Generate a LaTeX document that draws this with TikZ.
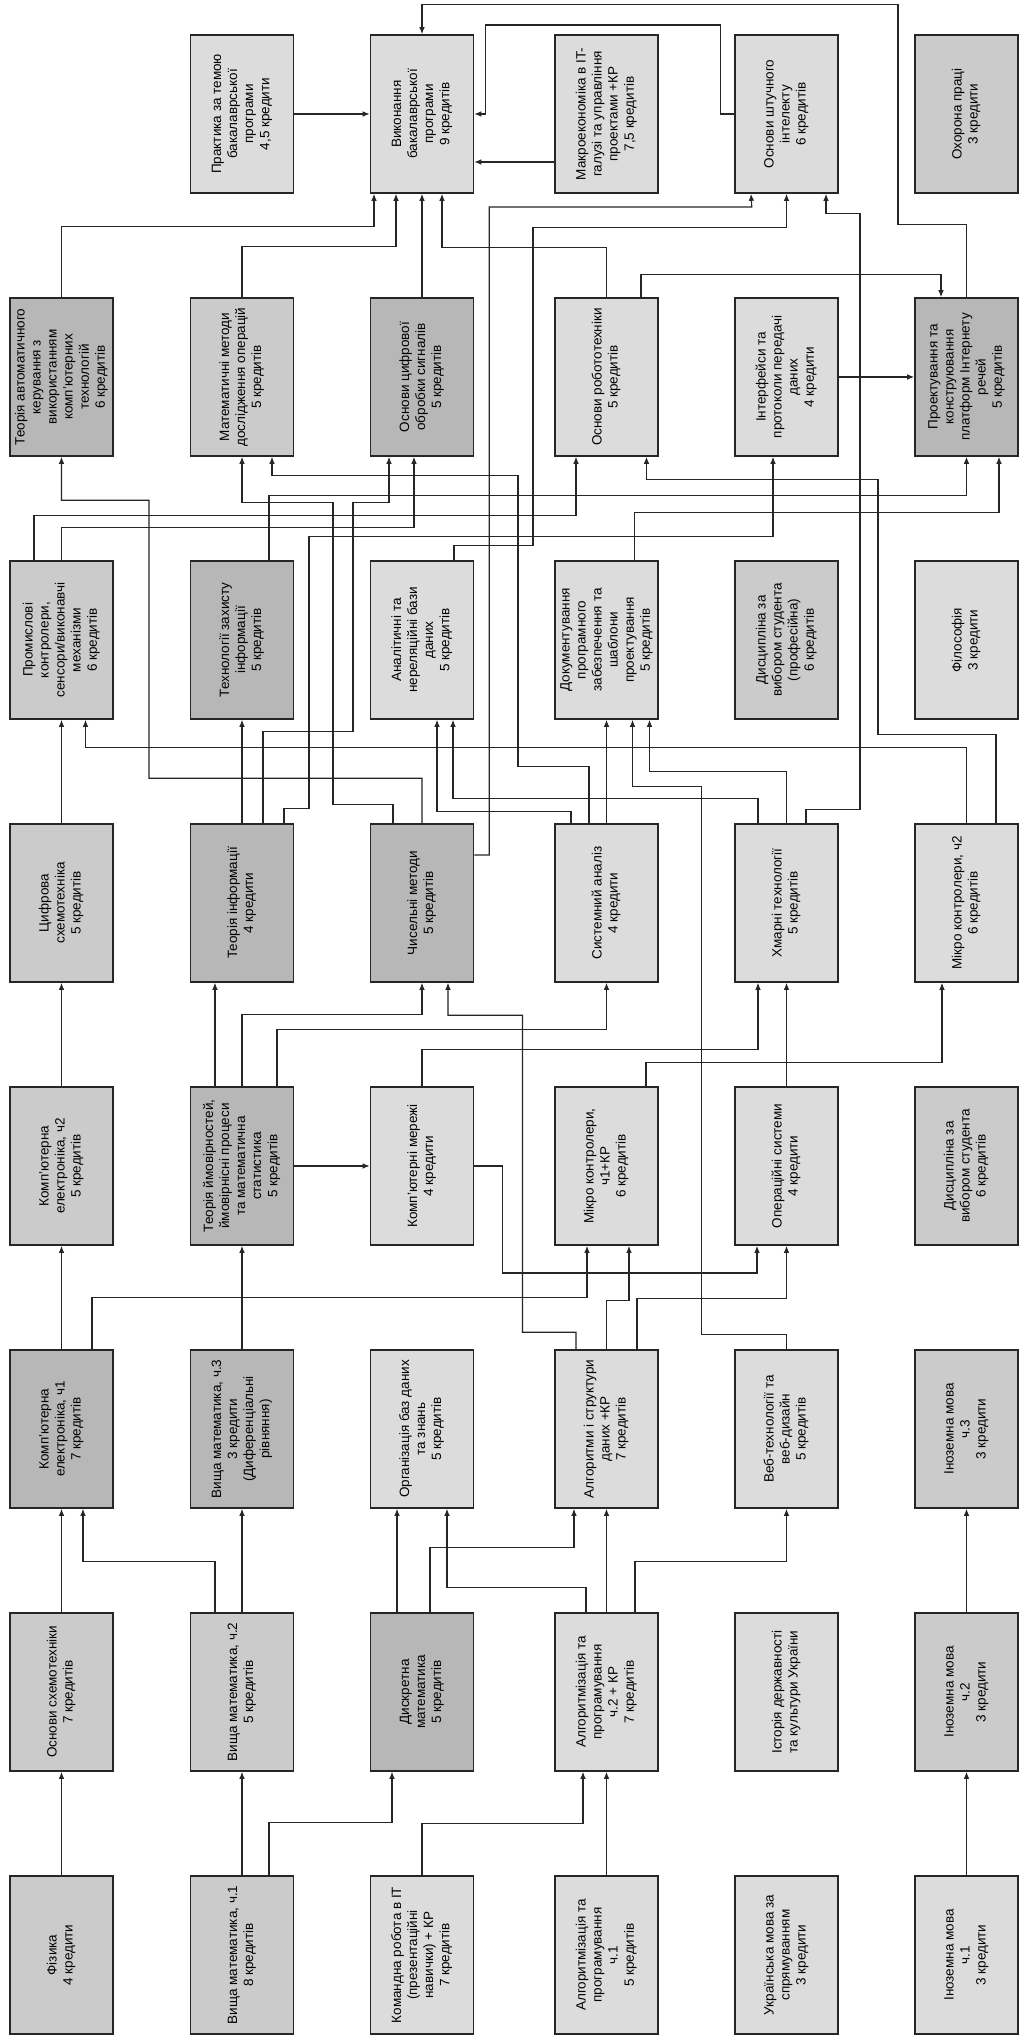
\documentclass[tikz,border=0pt]{standalone}
\usepackage{fontspec}
\setmainfont{Liberation Sans}
\usepackage{graphicx}
\usetikzlibrary{arrows.meta,calc}
\definecolor{boxlight}{RGB}{220,220,220}
\definecolor{boxmid}{RGB}{203,203,203}
\definecolor{boxdark}{RGB}{183,183,183}
\newcommand{\turntext}[1]{\rotatebox{90}{\begin{tabular}{@{}c@{}}#1\end{tabular}}}
\tikzset{
    course/.style={
        draw=black!85,
        line width=1.1pt,
        fill=boxlight,
        minimum width=2.575cm,
        minimum height=3.95cm,
        inner sep=0pt,
        font=\fontsize{9.6}{11.4}\selectfont
    },
    coursemid/.style={course, fill=boxmid},
    coursedark/.style={course, fill=boxdark},
    link/.style={draw=black!85, line width=0.8pt, -{Latex[length=5pt,width=4pt]}}
}

\begin{document}
\begin{tikzpicture}[x=0.025cm, y=0.025cm]
  \path[fill=white] (0,0) rectangle (1030,2040);
  \useasboundingbox (0,0) rectangle (1030,2040);

  % semester 1
  \node[coursemid] (fiz) at (61.5,85) {\turntext{Фізика\\4 кредити}};
  \node[coursemid] (vm1) at (242,85) {\turntext{Вища математика, ч.1\\8 кредитів}};
  \node[course] (kr) at (422,85) {\turntext{Командна робота в IT\\(презентаційні\\навички) + КР\\7 кредитів}};
  \node[course] (alg1) at (606.5,85) {\turntext{Алгоритмізація та\\програмування\\ч.1\\5 кредитів}};
  \node[course] (ukr) at (786.5,85) {\turntext{Українська мова за\\спрямуванням\\3 кредити}};
  \node[course] (in1) at (966.5,85) {\turntext{Іноземна мова\\ч.1\\3 кредити}};

  % semester 2
  \node[coursemid] (osx) at (61.5,348) {\turntext{Основи схемотехніки\\7 кредитів}};
  \node[coursemid] (vm2) at (242,348) {\turntext{Вища математика, ч.2\\5 кредитів}};
  \node[coursedark] (dm) at (422,348) {\turntext{Дискретна\\математика\\5 кредитів}};
  \node[course] (alg2) at (606.5,348) {\turntext{Алгоритмізація та\\програмування\\ч.2 + КР\\7 кредитів}};
  \node[course] (ist) at (786.5,348) {\turntext{Історія державності\\та культури України\\ }};
  \node[coursemid] (in2) at (966.5,348) {\turntext{Іноземна мова\\ч.2\\3 кредити}};

  % semester 3
  \node[coursedark] (kel1) at (61.5,611) {\turntext{Комп'ютерна\\електроніка, ч1\\7 кредитів}};
  \node[coursedark] (vm3) at (242,611) {\turntext{Вища математика, ч.3\\3 кредити\\(Диференціальні\\рівняння)}};
  \node[course] (obd) at (422,611) {\turntext{Організація баз даних\\та знань\\5 кредитів}};
  \node[course] (asd) at (606.5,611) {\turntext{Алгоритми і структури\\даних +КР\\7 кредитів}};
  \node[course] (web) at (786.5,611) {\turntext{Веб-технології та\\веб-дизайн\\5 кредитів}};
  \node[coursemid] (in3) at (966.5,611) {\turntext{Іноземна мова\\ч.3\\3 кредити}};

  % semester 4
  \node[coursemid] (kel2) at (61.5,874) {\turntext{Комп'ютерна\\електроніка, ч2\\5 кредитів}};
  \node[coursedark] (tv) at (242,874) {\turntext{Теорія ймовірностей,\\ймовірнісні процеси\\та математична\\статистика\\5 кредитів}};
  \node[course] (km) at (422,874) {\turntext{Комп'ютерні мережі\\4 кредити}};
  \node[course] (mc1) at (606.5,874) {\turntext{Мікро контролери,\\ч1+КР\\6 кредитів}};
  \node[course] (os) at (786.5,874) {\turntext{Операційні системи\\4 кредити}};
  \node[coursemid] (dv1) at (966.5,874) {\turntext{Дисципліна за\\вибором студента\\6 кредитів}};

  % semester 5
  \node[coursemid] (csx) at (61.5,1137) {\turntext{Цифрова\\схемотехніка\\5 кредитів}};
  \node[coursedark] (ti) at (242,1137) {\turntext{Теорія інформації\\4 кредити}};
  \node[coursedark] (cm) at (422,1137) {\turntext{Чисельні методи\\5 кредитів}};
  \node[course] (sa) at (606.5,1137) {\turntext{Системний аналіз\\4 кредити}};
  \node[course] (ht) at (786.5,1137) {\turntext{Хмарні технології\\5 кредитів}};
  \node[course] (mc2) at (966.5,1137) {\turntext{Мікро контролери, ч2\\6 кредитів}};

  % semester 6
  \node[coursemid] (pk) at (61.5,1400) {\turntext{Промислові\\контролери,\\сенсори/виконавчі\\механізми\\6 кредитів}};
  \node[coursedark] (tzi) at (242,1400) {\turntext{Технології захисту\\інформації\\5 кредитів}};
  \node[course] (abd) at (422,1400) {\turntext{Аналітичні та\\нереляційні бази\\даних\\5 кредитів}};
  \node[course] (doc) at (606.5,1400) {\turntext{Документування\\програмного\\забезпечення та\\шаблони\\проектування\\5 кредитів}};
  \node[coursemid] (dv2) at (786.5,1400) {\turntext{Дисципліна за\\вибором студента\\(професійна)\\6 кредитів}};
  \node[course] (fil) at (966.5,1400) {\turntext{Філософія\\3 кредити}};

  % semester 7
  \node[coursedark] (tak) at (61.5,1663) {\turntext{Теорія автоматичного\\керування з\\використанням\\комп'ютерних\\технологій\\6 кредитів}};
  \node[coursemid] (mmd) at (242,1663) {\turntext{Математичні методи\\дослідження операцій\\5 кредитів}};
  \node[coursedark] (cos) at (422,1663) {\turntext{Основи цифрової\\обробки сигналів\\5 кредитів}};
  \node[course] (rob) at (606.5,1663) {\turntext{Основи робототехніки\\5 кредитів}};
  \node[course] (ipd) at (786.5,1663) {\turntext{Інтерфейси та\\протоколи передачі\\даних\\4 кредити}};
  \node[coursedark] (iot) at (966.5,1663) {\turntext{Проектування та\\конструювання\\платформ Інтернету\\речей\\5 кредитів}};

  % semester 8
  \node[course] (prak) at (242,1926) {\turntext{Практика за темою\\бакалаврської\\програми\\4,5 кредити}};
  \node[course] (bak) at (422,1926) {\turntext{Виконання\\бакалаврської\\програми\\9 кредитів}};
  \node[course] (mak) at (606.5,1926) {\turntext{Макроекономіка в IT-\\галузі та управління\\проектами +КР\\7,5 кредитів}};
  \node[course] (shi) at (786.5,1926) {\turntext{Основи штучного\\інтелекту\\6 кредитів}};
  \node[coursemid] (op) at (966.5,1926) {\turntext{Охорона праці\\3 кредити}};

  % links 1 -> 2
  \draw[link] (fiz.north) -- (osx.south);
  \draw[link] (vm1.north) -- (vm2.south);
  \draw[link] ($(vm1.north)+(27,0)$) -- ++(0,53) -| ($(dm.south)+(-30,0)$);
  \draw[link] (kr.north) -- ++(0,52) -| ($(alg2.south)+(-23.5,0)$);
  \draw[link] (alg1.north) -- (alg2.south);
  \draw[link] (in1.north) -- (in2.south);

  % links 2 -> 3
  \draw[link] (osx.north) -- (kel1.south);
  \draw[link] (vm2.north) -- (vm3.south);
  \draw[link] ($(vm2.north)+(-27,0)$) -- ++(0,51) -| ($(kel1.south)+(21.5,0)$);
  \draw[link] ($(dm.north)+(-25,0)$) -- ($(obd.south)+(-25,0)$);
  \draw[link] ($(dm.north)+(8,0)$) -- ++(0,65) -| ($(asd.south)+(-32.5,0)$);
  \draw[link] ($(alg2.north)+(-20.5,0)$) -- ++(0,25) -| ($(obd.south)+(25,0)$);
  \draw[link] (alg2.north) -- (asd.south);
  \draw[link] ($(alg2.north)+(28.5,0)$) -- ++(0,51) -| (web.south);
  \draw[link] (in2.north) -- (in3.south);

  % links 3 -> 4
  \draw[link] (kel1.north) -- (kel2.south);
  \draw[link] ($(kel1.north)+(30.5,0)$) -- ++(0,52) -| ($(mc1.south)+(-19.5,0)$);
  \draw[link] (vm3.north) -- (tv.south);
  \draw[link] (asd.north) -- ++(0,49) -| ($(mc1.south)+(22.5,0)$);
  \draw[link] ($(asd.north)+(30.5,0)$) -- ++(0,51) -| (os.south);
  \draw[link] (tv.east) -- (km.west);
  \draw[link] (km.east) -- ++(28,0) -- ++(0,-107) -| ($(os.south)+(-29.5,0)$);

  % links 4 -> 5
  \draw[link] (kel2.north) -- (csx.south);
  \draw[link] ($(tv.north)+(-27,0)$) -- ($(ti.south)+(-27,0)$);
  \draw[link] (tv.north) -- ++(0,72) -| (cm.south);
  \draw[link] ($(tv.north)+(35,0)$) -- ++(0,57) -| (sa.south);
  \draw[link] (km.north) -- ++(0,37) -| ($(ht.south)+(-28.5,0)$);
  \draw[link] (os.north) -- (ht.south);
  \draw[link] ($(mc1.north)+(39.5,0)$) -- ++(0,24) -| ($(mc2.south)+(-24.5,0)$);
  \draw[link] ($(asd.north)+(-30.5,0)$) |- ++(-53.5,17) |- ++(-74.5,317) -- ($(cm.south)+(26,0)$);
  \draw[link] (web.north) |- ++(-85,15) |- ++(-69,548) -- ($(doc.south)+(26,0)$);

  % links 5 -> 6 and further
  \draw[link] (csx.north) -- (pk.south);
  \draw[link] (mc2.north) -- ++(0,76) -| ($(pk.south)+(24,0)$);
  \draw[link] (ti.north) -- (tzi.south);
  \draw[link] ($(ti.north)+(21,0)$) |- ++(90,92) |- ++(36,229) -- ($(cos.south)+(-33,0)$);
  \draw[link] ($(ti.north)+(42,0)$) |- ++(25,15) |- ++(464,272) -- ($(ipd.south)+(-13.5,0)$);
  \draw[link] (cm.north) |- ++(-273,45) |- ++(-87.5,278) -- (tak.south);
  \draw[link] ($(cm.north)+(-29,0)$) |- ++(-60,19) |- ++(-91,302) -- (mmd.south);
  \draw[link] ($(cm.east)+(0,48)$) -- ++(15,0) |- ++(262.5,648) -- ($(shi.south)+(-35.5,0)$);
  \draw[link] ($(sa.north)+(-17.5,0)$) |- ++(-71,57) |- ++(-246,291) -- ($(mmd.south)+(30,0)$);
  \draw[link] ($(sa.north)+(-35.5,0)$) -- ++(0,12) -| ($(abd.south)+(15,0)$);
  \draw[link] (sa.north) -- (doc.south);
  \draw[link] ($(ht.north)+(-28.5,0)$) -- ++(0,25) -| ($(abd.south)+(31,0)$);
  \draw[link] (ht.north) -- ++(0,52) -| ($(doc.south)+(43,0)$);
  \draw[link] ($(ht.north)+(19.5,0)$) |- ++(54,14) |- ++(-34,596) -- ($(shi.south)+(39.5,0)$);
  \draw[link] ($(mc2.north)+(29.5,0)$) |- ++(-118,89) |- ++(-231.5,255) -- ($(rob.south)+(40,0)$);

  % links 6 -> 7
  \draw[link] ($(pk.north)+(-27.5,0)$) -- ++(0,45) -| ($(rob.south)+(-30.5,0)$);
  \draw[link] (pk.north) -- ++(0,33) -| ($(cos.south)+(-8,0)$);
  \draw[link] ($(tzi.north)+(27,0)$) -- ++(0,65) -| (iot.south);
  \draw[link] ($(abd.north)+(32,0)$) |- ++(79,15) |- ++(253.5,318) -- (shi.south);
  \draw[link] ($(doc.north)+(28,0)$) -- ++(0,48) -| ($(iot.south)+(32.5,0)$);
  \draw[link] (ipd.east) -- (iot.west);

  % links 7 -> 8
  \draw[link] (tak.north) -- ++(0,71) -| ($(bak.south)+(-48,0)$);
  \draw[link] (mmd.north) -- ++(0,51) -| ($(bak.south)+(-26,0)$);
  \draw[link] (cos.north) -- (bak.south);
  \draw[link] (rob.north) -- ++(0,50) -| ($(bak.south)+(20,0)$);
  \draw[link] ($(rob.north)+(34.5,0)$) -- ++(0,23) -| ($(iot.north)+(-25.5,0)$);
  \draw[link] (iot.north) |- ++(-68.5,73) |- ++(-476,220) -- (bak.north);
  \draw[link] (shi.west) -- ++(-14,0) |- ++(-235,89) |- (bak.east);
  \draw[link] ($(mak.west)+(0,-48)$) -- ($(bak.east)+(0,-48)$);
  \draw[link] (prak.east) -- (bak.west);

\end{tikzpicture}
\end{document}
